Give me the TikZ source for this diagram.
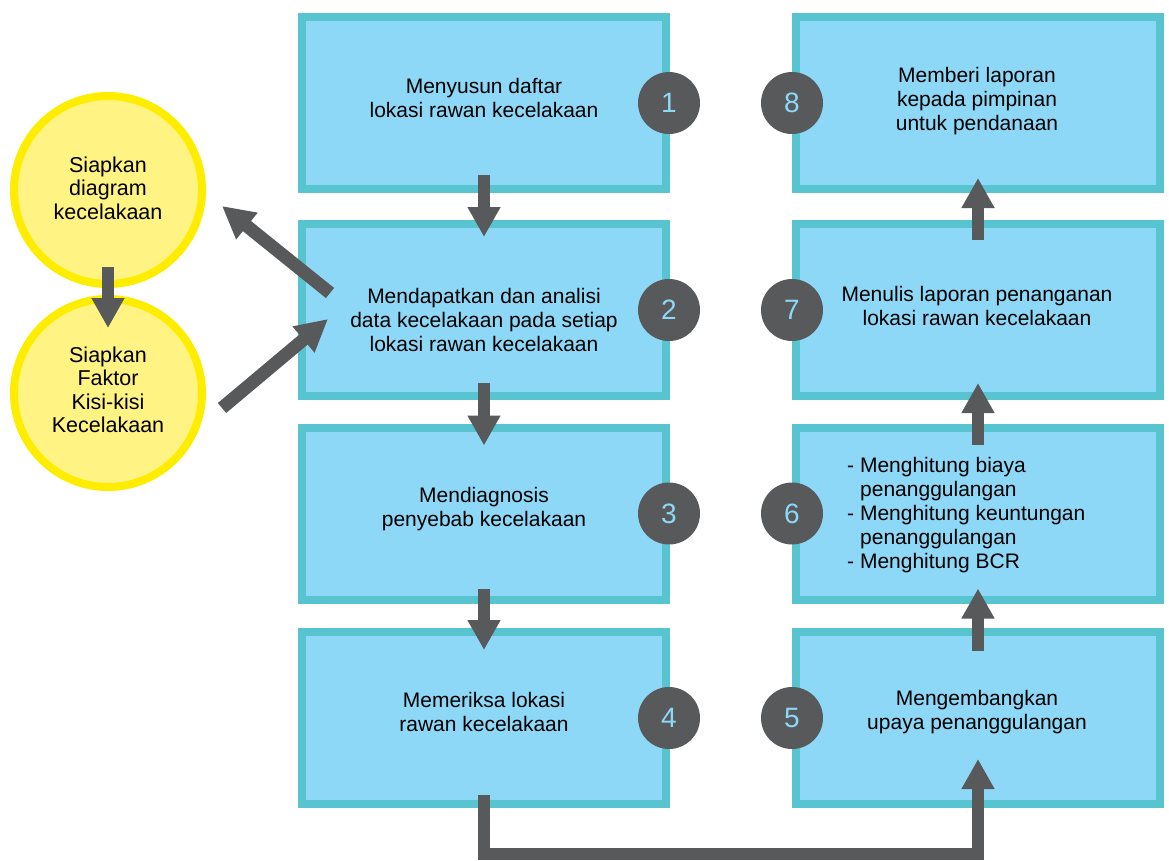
\documentclass[tikz,border=0pt]{standalone}
\usepackage{fontspec}
\setmainfont{Liberation Sans}
\usetikzlibrary{arrows.meta,calc}
\definecolor{boxfill}{HTML}{8ED8F7}
\definecolor{boxline}{HTML}{57C4D0}
\definecolor{ylwline}{HTML}{FFED00}
\definecolor{ylwfill}{HTML}{FFF383}
\definecolor{darkg}{HTML}{58595B}
\definecolor{numtxt}{HTML}{8ED8F7}
\begin{document}
\begin{tikzpicture}[x=1pt,y=-1pt,
 stepbox/.style={draw=boxline, fill=boxfill, line width=8pt, minimum width=364pt, minimum height=172pt, inner sep=0pt},
 ybub/.style={circle, draw=ylwline, fill=ylwfill, line width=8pt, minimum size=188pt, inner sep=0pt},
 num/.style={circle, fill=darkg, minimum size=62pt, inner sep=0pt, text=numtxt, font=\fontsize{28}{30}\selectfont},
 lbl/.style={align=center, font=\fontsize{21}{24}\selectfont, inner sep=0pt},
 ylbl/.style={align=center, font=\fontsize{21.5}{23.5}\selectfont, inner sep=0pt},
 arr/.style={draw=darkg, line width=12pt, -{Triangle[width=31pt,length=30pt]}},
 darr/.style={draw=darkg, line width=13pt, -{Triangle[width=32pt,length=32pt]}},
 ]
\useasboundingbox (0,0) rectangle (1169,860);
% boxes
\node[stepbox] (b1) at (484,103) {};
\node[stepbox] (b2) at (484,310) {};
\node[stepbox] (b3) at (484,513.5) {};
\node[stepbox] (b4) at (484,718) {};
\node[stepbox] (b8) at (978,103) {};
\node[stepbox] (b7) at (978,310) {};
\node[stepbox] (b6) at (978,513.5) {};
\node[stepbox] (b5) at (978,718) {};
% yellow bubbles
\node[ybub] (y1) at (108,190) {};
\node[ybub] (y2) at (108,393) {};
% labels
\node[lbl] (t1) at (484,98) {Menyusun daftar\\lokasi rawan kecelakaan};
\node[lbl] (t2) at (484,320) {Mendapatkan dan analisi\\data kecelakaan pada setiap\\lokasi rawan kecelakaan};
\node[lbl] (t3) at (484,509) {Mendiagnosis\\penyebab kecelakaan};
\node[lbl] (t4) at (484,712) {Memeriksa lokasi\\rawan kecelakaan};
\node[lbl] (t8) at (977,101) {Memberi laporan\\kepada pimpinan\\untuk pendanaan};
\node[lbl] (t7) at (977,306) {Menulis laporan penanganan\\lokasi rawan kecelakaan};
\node[lbl, align=left, anchor=west] (t6) at (847,515) {- Menghitung biaya\\\hspace*{13pt}penanggulangan\\- Menghitung keuntungan\\\hspace*{13pt}penanggulangan\\- Menghitung BCR};
\node[lbl] (t5) at (977,712) {Mengembangkan\\upaya penanggulangan};
\node[ylbl] (ty1) at (108,188) {Siapkan\\diagram\\kecelakaan};
\node[ylbl] (ty2) at (108,390) {Siapkan\\Faktor\\Kisi-kisi\\Kecelakaan};
% arrows
\draw[arr] ($(b1.south)+(0,-18)$) -- ($(b2.north)+(0,17)$);
\draw[arr] ($(b2.south)+(0,-17)$) -- ($(b3.north)+(0,22)$);
\draw[arr] ($(b3.south)+(0,-15)$) -- ($(b4.north)+(0,22)$);
\draw[arr] ($(b5.north)+(0,23)$) -- ($(b6.south)+(0,-15)$);
\draw[arr] ($(b6.north)+(0,21)$) -- ($(b7.south)+(0,-17)$);
\draw[arr] ($(b7.north)+(0,20)$) -- ($(b8.south)+(0,-15)$);
\draw[arr, line join=miter] ($(b4.south)+(0,-13)$) -- ++(0,59) -| ($(b5.south)+(0,-49)$);
\draw[arr] ($(y1.south)+(0,-21)$) -- ($(y2.north)+(0,33)$);
\draw[darr] ($(b2.west)+(32,-17)$) -- ($(y1.east)+(16,16)$);
\draw[darr] ($(y2.east)+(16,15)$) -- ($(b2.west)+(30,9)$);
% number circles
\node[num] (n1) at ($(b1.east)+(-1,0)$) {1};
\node[num] (n2) at ($(b2.east)+(-1,0)$) {2};
\node[num] (n3) at ($(b3.east)+(-1,0)$) {3};
\node[num] (n4) at ($(b4.east)+(-1,0)$) {4};
\node[num] (n8) at (b8.west) {8};
\node[num] (n7) at (b7.west) {7};
\node[num] (n6) at (b6.west) {6};
\node[num] (n5) at (b5.west) {5};
\end{tikzpicture}
\end{document}
